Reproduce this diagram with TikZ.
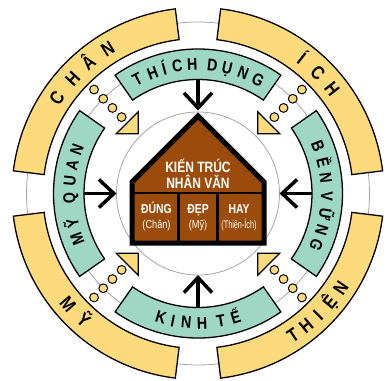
\documentclass[tikz,border=0pt]{standalone}
\usepackage{fontspec}
\setmainfont{Liberation Sans}
\newfontfamily\bandfont[FakeStretch=0.84]{Liberation Sans}
\newfontfamily\housefont[FakeStretch=0.8]{Liberation Sans}
\usetikzlibrary{arrows.meta}
\definecolor{ylw}{RGB}{253,219,125}
\definecolor{mint}{RGB}{158,216,196}
\definecolor{brn}{RGB}{156,76,10}
\definecolor{gry}{RGB}{165,165,165}
\newcommand\annsector[5][]{\draw[#1] (#2:#4) arc[start angle=#2,end angle=#3,radius=#4] -- (#3:#5) arc[start angle=#3,end angle=#2,radius=#5] -- cycle;}
% clockwise text, tops outward
\newcommand\cwtext[4]{\foreach \a/\c [count=\i] in {#4} {\node[#2, rotate=\a-90, anchor=base] (#3\i) at (\a:#1) {\c};}}
% counter-clockwise text, tops inward
\newcommand\ccwtext[4]{\foreach \a/\c [count=\i] in {#4} {\node[#2, rotate=\a+90, anchor=base] (#3\i) at (\a:#1) {\c};}}
\tikzset{
  guide/.style={draw=gry, line width=0.8pt},
  yarc/.style={fill=ylw, draw=black, line width=1.3pt},
  garc/.style={fill=mint, draw=black, line width=1.3pt},
  dotst/.style={fill=ylw, draw=black, line width=1pt},
  tri/.style={fill=ylw, draw=black, line width=1.1pt, line join=miter},
  arr/.style={line width=3.5pt, -{Straight Barb[length=15pt,width=28pt]}},
  outerletter/.style={font=\bandfont\bfseries\fontsize{19}{19}\selectfont, inner sep=0pt},
  bandletter/.style={font=\bandfont\bfseries\fontsize{17}{17}\selectfont, inner sep=0pt},
  htitle/.style={font=\housefont\bfseries\fontsize{15}{15}\selectfont, text=white, inner sep=0pt, anchor=base},
  hhead/.style={font=\housefont\bfseries\fontsize{13}{13}\selectfont, text=white, inner sep=0pt, anchor=base},
  hsub/.style={font=\housefont\fontsize{11.5}{11.5}\selectfont, text=white, inner sep=0pt, anchor=base},
}
\begin{document}
\begin{tikzpicture}[x=1pt,y=1pt]
\useasboundingbox (-198,-186.5) rectangle (189,193.5);
% guide circles
\draw[guide] (0,0) circle[radius=171.5];
\draw[guide] (0,0) circle[radius=134];
\draw[guide] (0,0) circle[radius=81.5];
% outer yellow arcs
\annsector[yarc]{7}{83}{155}{186}
\annsector[yarc]{97}{173}{155}{186}
\annsector[yarc]{187}{263}{155}{186}
\annsector[yarc]{277}{353}{155}{186}
% green bands
\annsector[garc]{55}{125}{114}{144.5}
\annsector[garc]{145}{215}{114}{144.5}
\annsector[garc]{235}{305}{114}{144.5}
\annsector[garc]{-35}{35}{114}{144.5}
% dots and triangles
\foreach \d in {45,135,225,315}{
  \foreach \r in {147,134,121,108} \draw[dotst] (\d:\r) circle[radius=4.4];
  \draw[tri] (\d:84.5) -- +(\d+45:22) -- +(\d-45:22) -- cycle;
}
% outer words
\cwtext{163.5}{outerletter}{chan}{146/C,137.5/H,130/Â,122/N}
\cwtext{163.5}{outerletter}{ich}{52.5/Í,45.2/C,38/H}
\ccwtext{177.5}{outerletter}{my}{220.5/M,228/Ỹ}
\ccwtext{177.5}{outerletter}{thien}{303.8/T,309.3/H,314.6/I,320.5/Ệ,326.6/N}
% band words
\cwtext{123}{bandletter}{td}{118/T,110.6/H,105.2/Í,99.2/C,92.6/H,83.6/D,76.9/Ụ,69.4/N,62.2/G}
\cwtext{123}{bandletter}{mq}{200.5/M,193.5/Ỹ,182/Q,174.5/U,167.5/A,160/N}
\cwtext{123}{bandletter}{bv}{21.5/B,14/Ề,7/N,-1.5/V,-9.3/Ữ,-16.3/N,-23.3/G}
\ccwtext{135.5}{bandletter}{kt}{253.4/K,258.9/I,264.8/N,271.8/H,280.2/T,286.9/Ế}
% arrows
\coordinate (sT) at (90:114);  \coordinate (eT) at (90:83);
\coordinate (sL) at (180:114); \coordinate (eL) at (180:81.5);
\coordinate (sR) at (0:114);   \coordinate (eR) at (0:81.5);
\coordinate (sB) at (270:114); \coordinate (eB) at (270:81.5);
\draw[arr] (sT) -- (eT);
\draw[arr] (sL) -- (eL);
\draw[arr] (sR) -- (eR);
\draw[arr] (sB) -- (eB);
% house
\draw[line width=5pt, fill=brn, line join=miter] (-66,-49.5) -- (-66,11.5) -- (0,77.5) -- (66,11.5) -- (66,-49.5) -- cycle;
\draw[line width=2.5pt] (-66,0.5) -- (66,0.5);
\draw[line width=2.5pt] (-19.7,0.5) -- (-19.7,-49.5);
\draw[line width=2.5pt] (19.3,0.5) -- (19.3,-49.5);
\node[htitle] (t1) at (0,21.5) {KIẾN TRÚC};
\node[htitle] (t2) at (0,5) {NHÂN VĂN};
\node[hhead] (c1) at (-41.5,-19.5) {ĐÚNG};
\node[hsub] (c1s) at (-41.5,-34.5) {(Chân)};
\node[hhead] (c2) at (0,-19.5) {ĐẸP};
\node[hsub] (c2s) at (0,-34.5) {(Mỹ)};
\node[hhead] (c3) at (41,-19.5) {HAY};
\node[hsub, font=\housefont\fontsize{11}{11}\selectfont\addfontfeature{FakeStretch=0.66}] (c3s) at (41,-34.5) {(Thiện-Ích)};
\end{tikzpicture}
\end{document}
